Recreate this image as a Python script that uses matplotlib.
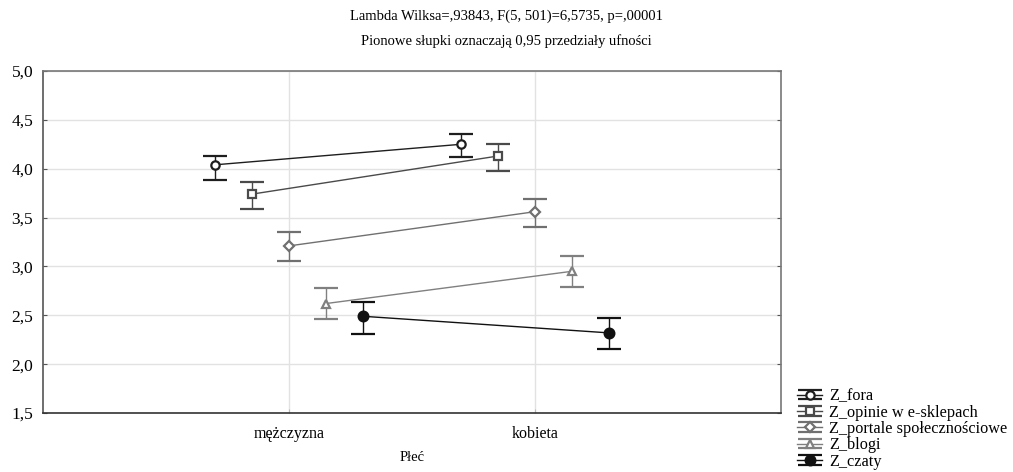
import matplotlib.pyplot as plt
from matplotlib.ticker import FuncFormatter
from matplotlib.legend_handler import HandlerErrorbar
from matplotlib.container import ErrorbarContainer

plt.rcParams['font.family'] = ['Liberation Serif', 'DejaVu Serif']

categories = ['mężczyzna', 'kobieta']
series = ['Z_fora', 'Z_opinie w e-sklepach', 'Z_portale społecznościowe', 'Z_blogi', 'Z_czaty']
means = [[4.04, 4.25], [3.74, 4.13], [3.21, 3.56], [2.62, 2.95], [2.49, 2.32]]
upper = [[4.13, 4.36], [3.86, 4.25], [3.35, 3.69], [2.78, 3.11], [2.64, 2.47]]
lower = [[3.88, 4.12], [3.59, 3.98], [3.06, 3.40], [2.46, 2.79], [2.31, 2.15]]

markers = ['o', 's', 'D', '^', 'o']
colors = ['#1e1e1e', '#4a4a4a', '#707070', '#808080', '#111111']
filled = [False, False, False, False, True]
msizes = [6, 6, 5, 6, 7]
offsets = [-0.3, -0.15, 0.0, 0.15, 0.3]

fig = plt.figure(figsize=(10.13, 4.72), dpi=100)
ax = fig.add_axes([0.0424, 0.125, 0.7286, 0.7246])

handles = []
for i, name in enumerate(series):
    xs = [1 + offsets[i], 2 + offsets[i]]
    yerr = [[means[i][j] - lower[i][j] for j in range(2)],
            [upper[i][j] - means[i][j] for j in range(2)]]
    h = ax.errorbar(xs, means[i], yerr=yerr, color=colors[i], lw=1.0,
                    elinewidth=1.0, capsize=8.5, capthick=1.0,
                    marker=markers[i], ms=msizes[i], mew=1.6,
                    mfc=colors[i] if filled[i] else 'white', mec=colors[i],
                    label=name, zorder=3)
    handles.append(h)

ax.set_xlim(0, 3)
ax.set_ylim(1.5, 5.0)
ax.set_xticks([1, 2])
ax.set_xticklabels(categories, fontsize=11.5)
ax.set_yticks([1.5, 2.0, 2.5, 3.0, 3.5, 4.0, 4.5, 5.0])
ax.yaxis.set_major_formatter(FuncFormatter(lambda v, p: ('%.1f' % v).replace('.', ',')))
ax.tick_params(axis='y', labelsize=12.5, direction='in', length=3, color='#555555',
               right=True, pad=7)
ax.tick_params(axis='x', direction='in', length=3, color='#bbbbbb', pad=9)
ax.grid(True, color='#e2e2e2', lw=1.0, zorder=0)
for s in ax.spines.values():
    s.set_color('#777777')
    s.set_linewidth(1.2)
ax.spines['bottom'].set_color('#333333')
ax.spines['left'].set_color('#555555')
ax.set_xlabel('Płeć', fontsize=10.5, labelpad=7)

fig.text(0.5, 0.965, 'Lambda Wilksa=,93843, F(5, 501)=6,5735, p=,00001',
         ha='center', va='center', fontsize=10.5)
fig.text(0.5, 0.913, 'Pionowe słupki oznaczają 0,95 przedziały ufności',
         ha='center', va='center', fontsize=10.5)

fig.legend(handles=handles, loc='lower left', bbox_to_anchor=(0.776, -0.019),
           frameon=False, fontsize=11.7, handlelength=1.5, handletextpad=0.45,
           labelspacing=0.02, borderpad=0.2,
           handler_map={ErrorbarContainer: HandlerErrorbar(yerr_size=0.3)})

plt.savefig('out.png', dpi=100)
